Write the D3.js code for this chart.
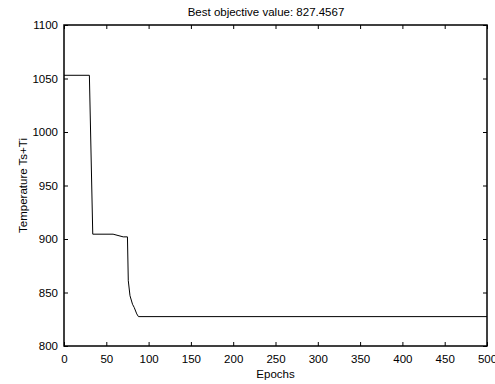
<!DOCTYPE html>
<html>
<head>
<meta charset="utf-8">
<script src="https://cdn.jsdelivr.net/npm/d3@7"></script>
<style>
  body { margin: 0; background: #fff; }
  svg { display: block; font-family: "Liberation Sans", Arial, sans-serif; }
  .tick text { font-size: 11.5px; fill: #000; }
</style>
</head>
<body>
<div class="plot"></div>
<script>
// breakpoints of the best-so-far curve (epoch, objective)
let epochs = [0, 30, 34, 58, 70, 75, 76, 78, 81, 83, 86, 88, 500];
let values = [1053, 1053, 904.5, 904.5, 902, 902, 861, 847, 839, 836, 830, 827.46, 827.46];

let xTicks = [0, 50, 100, 150, 200, 250, 300, 350, 400, 450, 500];
let yTicks = [800, 850, 900, 950, 1000, 1050, 1100];

let titleText = "Best objective value: 827.4567";
let xLabel = "Epochs";
let yLabel = "Temperature Ts+Ti";

let width = 495, height = 384;
let plotLeft = 64, plotRight = 487, plotTop = 25, plotBottom = 346;
let tickLen = 4;

let svg = d3.select(".plot")
    .append("svg")
    .attr("width", width)
    .attr("height", height);

let xScale = d3.scaleLinear().domain([0, 500]).range([plotLeft, plotRight]);
let yScale = d3.scaleLinear().domain([800, 1100]).range([plotBottom, plotTop]);

// bottom axis, ticks pointing inward
svg.append("g")
    .attr("transform", "translate(0," + plotBottom + ")")
    .call(d3.axisBottom(xScale).tickValues(xTicks).tickFormat(d3.format("d"))
        .tickSizeInner(-tickLen).tickSizeOuter(0).tickPadding(9))
    .call(g => g.select(".domain").remove());

// left axis
svg.append("g")
    .attr("transform", "translate(" + plotLeft + ",0)")
    .call(d3.axisLeft(yScale).tickValues(yTicks).tickFormat(d3.format("d"))
        .tickSizeInner(-tickLen).tickSizeOuter(0).tickPadding(6))
    .call(g => g.select(".domain").remove());

// top + right ticks (box on)
svg.append("g")
    .attr("transform", "translate(0," + plotTop + ")")
    .call(d3.axisTop(xScale).tickValues(xTicks).tickSizeInner(-tickLen).tickSizeOuter(0).tickFormat(""))
    .call(g => g.select(".domain").remove());

svg.append("g")
    .attr("transform", "translate(" + plotRight + ",0)")
    .call(d3.axisRight(yScale).tickValues(yTicks).tickSizeInner(-tickLen).tickSizeOuter(0).tickFormat(""))
    .call(g => g.select(".domain").remove());

svg.selectAll(".tick line").attr("stroke", "#000");

// frame
svg.append("rect")
    .attr("x", plotLeft)
    .attr("y", plotTop)
    .attr("width", plotRight - plotLeft)
    .attr("height", plotBottom - plotTop)
    .attr("fill", "none")
    .attr("stroke", "#000")
    .attr("stroke-width", 1.5);

let line = d3.line()
    .x(i => xScale(epochs[i]))
    .y(i => yScale(values[i]));

svg.append("path")
    .datum(d3.range(epochs.length))
    .attr("d", line)
    .attr("fill", "none")
    .attr("stroke", "#000")
    .attr("stroke-width", 1);

// title and labels
svg.append("text")
    .attr("x", 266)
    .attr("y", 16)
    .attr("text-anchor", "middle")
    .attr("font-size", "11.5px")
    .text(titleText);

svg.append("text")
    .attr("x", (plotLeft + plotRight) / 2)
    .attr("y", 378)
    .attr("text-anchor", "middle")
    .attr("font-size", "11.5px")
    .text(xLabel);

svg.append("text")
    .attr("transform", "translate(27," + ((plotTop + plotBottom) / 2) + ") rotate(-90)")
    .attr("text-anchor", "middle")
    .attr("font-size", "11.5px")
    .text(yLabel);
</script>
</body>
</html>
